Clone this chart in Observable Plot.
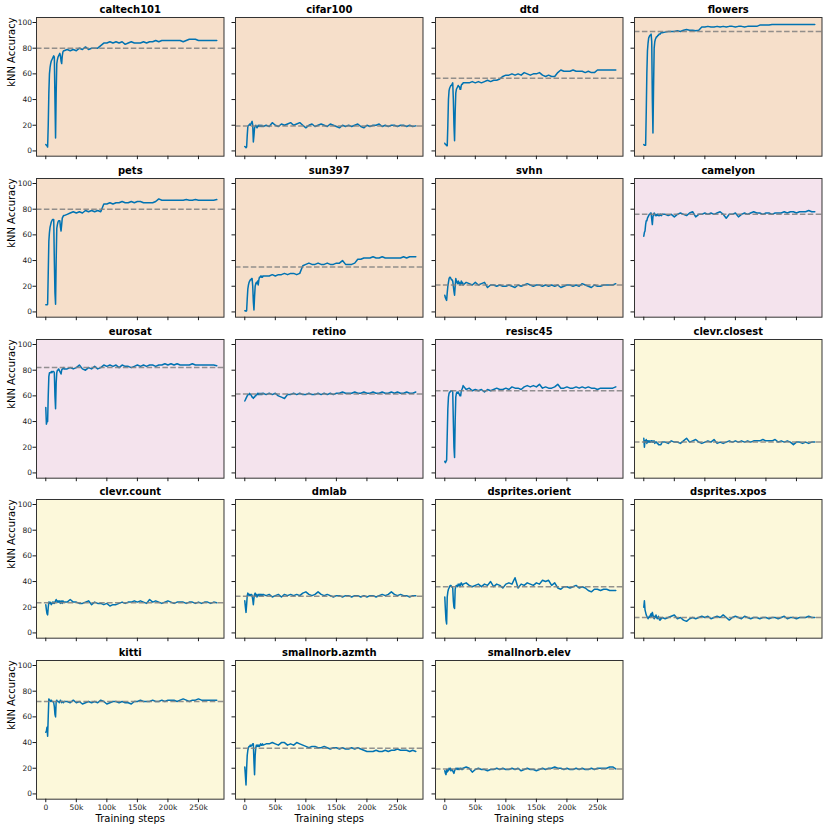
<!DOCTYPE html>
<html>
<head>
<meta charset="utf-8">
<script src="https://cdn.jsdelivr.net/npm/d3@7"></script>
<script src="https://cdn.jsdelivr.net/npm/@observablehq/plot@0.6"></script>
<style>
html, body { margin: 0; padding: 0; background: #ffffff; }
#chart { position: relative; width: 830px; height: 829px; font-family: "DejaVu Sans", sans-serif; }
#chart svg { position: absolute; }
</style>
</head>
<body>
<div id="chart"></div>
<script>
// Training steps, in thousands
const steps = [0,1,2,3,4,5,6,7,8,9,10,11,12,13,14,15,16,17,18,19,20,21,22,23,24,25,26,27,28,29,30,
  35,40,45,50,55,60,65,70,75,80,85,90,95,100,105,110,115,120,125,130,135,140,145,150,155,160,165,170,175,180,
  185,190,195,200,205,210,215,220,225,230,235,240,245,250,255,260,265,270,275,280];

const datasets = ["caltech101","cifar100","dtd","flowers","pets","sun397","svhn","camelyon",
  "eurosat","retino","resisc45","clevr.closest","clevr.count","dmlab","dsprites.orient","dsprites.xpos",
  "kitti","smallnorb.azmth","smallnorb.elev"];
const groups = ["natural","natural","natural","natural","natural","natural","natural","specialized",
  "specialized","specialized","specialized","structured","structured","structured","structured","structured",
  "structured","structured","structured"];
const baselines = [80, 19.5, 56.5, 93, 80, 35, 21, 76, 82, 61.5, 64, 24, 23.5, 28.5, 36, 12, 72, 35.5, 19.5];

const caltech101 = [5,4.5,4,3,20,45,60,65,68,70,71,72,73,74,73,40,10,45,68,71,73,74,75,76,74,70,68,74,77,78,78,
  79,78,79,78,80,79,81,79,80,80,80,82,84,84,85,84,85,84,85,83,84,85,84,84,84,85,84,85,85,86,85,86,86,86,86,86,86,86,85,86,87,87,87,86,86,86,86,86,86,86];
const cifar100 = [3.5,3,2.5,3,12,19,20,20,21,20,21,22,23,20,7,12,18,19,20,19,18,19,20,19,20,19,20,19,20,19,19,
  20,19,22,20,19,21,20,21,22,20,21,22,20,18,20,21,19,20,21,20,19,21,20,19,18,20,19,20,19,20,21,19,18,20,19,20,20,21,19,20,19,20,20,19,20,20,19,20,19,19.5];
const dtd = [6,5,5,4,4,20,40,47,49,50,51,51,52,53,40,20,8,30,45,48,49,50,51,50,50,48,48,51,52,52,53,
  53,53,54,53,54,53,54,55,54,55,55,56,58,59,59,60,59,60,59,61,60,59,60,60,61,59,58,59,58,58,61,63,62,62,62,63,62,62,62,61,62,61,61,63,63,63,63,63,63,63];
const flowers = [5,4.5,4.5,4.5,30,60,78,84,88,89,90,90,91,85,40,14,50,80,85,87,88,89,89,90,90,91,91,91,92,92,92,
  92.5,93,93,93,93.5,93,94,94.5,94,94,93.5,94,96.5,96.5,97,96.5,96.5,97,96.5,97,96.5,97,97,96.5,97,97,96.5,97,97,97,97,98,98,98,98,98.5,98.5,98.5,98.5,98.5,98.5,98.5,98.5,98.5,98.5,98.5,98.5,98.5,98.5,98.5];
const pets = [5.5,5.5,5.5,6,30,55,62,66,68,70,71,72,72,72,40,15,6,40,65,68,70,71,71,71,66,63,68,73,74,75,75,
  76,77,78,77,78,77,79,78,79,78,79,78,84,84,85,84,85,85,86,85,85,86,85,86,86,85,85,85,85,86,88,87,87,87,87,87,87,87,87,87.5,87,87,87.5,87,87,87,87,87,87,87.5];
const sun397 = [1,1,0.5,1,10,18,21,23,24,25,25,26,26,20,8,1.5,12,20,22,23,22,24,21,25,27,27,28,27,28,27,28,
  28,28,29,28,29,29,30,29,30,30,29,30,36,37,38,37,37,38,37,37,38,37,37,38,38,40,37,37,37,38,41,41,42,42,42,43,42,42,43,42,42,42,42,42,42,43,42,43,43,43];
const svhn = [13,11,10,9,15,20,23,26,27,27,26,25,25,24,20,16,13,20,26,24,23,22,24,22,23,21,22,24,22,23,21,
  23,22,21,23,21,22,23,19,21,21,20,21,20,20,21,20,19,21,20,21,22,21,20,21,21,20,21,20,21,20,21,19,20,21,21,20,21,20,22,21,20,19,21,20,20,21,21,21,21,22];
const camelyon = [59,62,63,68,71,71,73,74,75,76,76,77,77,72,68,74,76,77,76,75,76,75,76,76,75,76,75,76,76,75,76,
  76,75,76,74,76,77,76,75,77,78,74,76,76,77,76,77,76,77,78,76,73,76,76,77,74,76,77,76,77,78,77,77,76,77,77,76,77,77,77,78,77,78,78,77,78,78,78,79,78,78];
const eurosat = [51,38,40,40,60,75,78,78,78,79,78,79,79,79,78,60,50,70,78,80,80,81,80,79,78,77,80,81,81,82,81,
  81,82,81,82,84,81,80,82,81,83,81,82,84,83,84,83,84,82,84,83,83,82,83,84,83,84,83,84,84,83,84,84,85,84,85,84,85,84,84,84,84,85,84,84,84,84,84,84,84,83.5];
const retino = [56,57,58,59,60,61,61,61,62,61,61,60,59,59,58,59,59,60,60,61,61,62,61,62,61,62,61,62,61,62,62,
  61,62,61,62,60,59,58,61,61,62,61,62,61,61,62,61,61,62,61,62,61,62,61,62,62,63,62,62,62,63,62,62,63,62,62,63,62,62,63,62,62,63,62,63,62,62,63,62,62,63];
const resisc45 = [9,8,9,10,30,50,59,62,63,63,64,64,64,63,40,20,12,40,59,62,63,62,63,62,61,60,60,64,65,66,68,
  65,66,64,65,64,65,63,65,64,65,66,65,65,66,65,67,66,66,65,67,68,67,68,67,69,66,67,66,66,67,69,66,66,67,66,66,67,66,67,66,67,66,66,65,66,66,66,66,66,67];
const clevrClosest = [27,20,25,24,26,23,25,24,25,24,25,24,25,25,24,25,24,25,23,24,24,24,23,23,22,22,22,22,22,23,24,
  24,23,25,24,24,23,25,27,24,25,26,24,23,24,25,24,26,23,24,23,24,25,24,25,24,25,24,25,24,25,25,25,26,25,25,25,26,24,25,24,25,24,22,24,24,23,24,23,24,24];
const clevrCount = [22,18,15,14,20,24,23,24,23,22,23,24,23,24,23,24,25,26,25,24,25,24,25,24,23,25,24,23,25,24,24,
  24,26,24,24,23,23,24,25,22,24,23,23,22,23,21,22,22,23,24,23,24,24,25,24,25,24,23,26,24,25,24,23,24,25,24,23,24,24,24,23,24,24,23,24,23,24,24,23,24,23.5];
const dmlab = [25,20,16,22,29,31,30,29,30,29,30,30,29,26,22,27,30,31,29,30,28,29,30,29,30,29,30,29,30,29,30,
  29,30,28,29,30,28,30,29,30,29,30,29,31,32,30,29,30,32,30,29,30,29,28,29,29,28,29,29,28,29,29,28,29,28,29,29,28,29,30,29,30,32,30,29,30,29,29,28,29,29];
const dspritesOrient = [28,18,10,7,28,32,34,35,36,37,37,36,36,35,25,20,19,34,36,37,37,36,38,37,38,36,38,39,38,37,38,
  39,37,36,37,38,36,38,37,40,36,38,37,35,38,39,38,43,35,38,37,39,38,37,39,38,41,40,41,37,39,35,34,36,36,35,36,37,35,36,35,33,32,34,34,33,34,34,33,33,33];
const dspritesXpos = [20,25,18,16,14,13,12,11,12,13,12,14,15,13,16,14,12,11,13,12,14,12,11,12,13,11,10,10,12,11,12,
  11,12,13,14,11,12,10,9,11,12,11,12,13,12,13,11,12,13,12,14,12,10,12,13,12,11,13,12,11,12,12,11,12,12,11,12,12,11,12,13,11,12,12,11,12,12,12,13,12,12];
const kitti = [48,49,52,45,60,74,73,73,72,73,72,72,72,71,68,62,60,72,73,72,72,72,71,72,73,72,71,72,72,71,72,
  72,71,73,71,72,70,71,72,71,72,71,73,72,70,71,72,72,71,72,71,71,70,72,72,73,72,72,72,73,72,72,73,72,73,73,73,72,73,74,73,72,73,73,74,73,73,73,73,73,73];
const smallnorbAzmth = [21,14,7,20,30,34,36,37,37,38,37,38,38,39,39,25,15,30,36,38,37,38,37,38,37,38,39,38,38,39,38,
  39,39,40,39,38,40,40,38,39,38,40,39,38,37,36,37,37,36,36,37,36,35,36,36,35,36,35,35,36,35,36,35,34,33,33,33,34,33,33,34,33,34,34,35,34,34,34,33,34,33];
const smallnorbElev = [18,16,15,19,17,19,18,20,19,20,18,19,19,18,17,16,18,19,20,20,19,20,19,20,19,20,20,19,20,19,20,
  21,20,17,19,20,19,19,18,19,19,20,19,20,19,19,20,19,20,18,19,20,19,19,18,19,20,19,20,20,21,20,20,19,20,19,19,20,19,20,19,19,20,19,20,20,20,20,21,21,19.5];

const series = [caltech101, cifar100, dtd, flowers, pets, sun397, svhn, camelyon, eurosat, retino, resisc45,
  clevrClosest, clevrCount, dmlab, dspritesOrient, dspritesXpos, kitti, smallnorbAzmth, smallnorbElev];

const xTicks = [0, 50000, 100000, 150000, 200000, 250000];
const xTickLabels = ["0", "50k", "100k", "150k", "200k", "250k"];
const yTicks = [0, 20, 40, 60, 80, 100];

series.forEach((s, i) => { if (s.length !== steps.length) throw new Error(datasets[i] + " has " + s.length + " values, expected " + steps.length); });

// ---- styling / layout ----
const groupFill = { natural: "#f6dfca", specialized: "#f4e3ed", structured: "#fcf8da" };
const lineColor = "#0173b2";
const W = 187.5, H = 138.7;
const colLeft = c => 36 + c * 199.4;
const rowTop = r => 17.3 + r * 160.7;

const chart = document.getElementById("chart");

datasets.forEach((name, k) => {
  const r = Math.floor(k / 4), c = k % 4;
  const isLeft = c === 0;
  const isBottom = r === 4;
  const mL = isLeft ? 36 : 8, mR = 4, mT = 18, mB = isBottom ? 32 : 8;
  const rows = steps.map((s, i) => ({ step: s * 1000, acc: series[k][i] }));
  const marks = [
    Plot.frame({ fill: groupFill[groups[k]] }),
    Plot.line(rows, { x: "step", y: "acc", stroke: lineColor, strokeWidth: 1.5 }),
    Plot.ruleY([baselines[k]], { stroke: "#808080", strokeOpacity: 0.85, strokeWidth: 1.5, strokeDasharray: "5.5,2.4" }),
    Plot.frame({ stroke: "#333333", strokeWidth: 1 }),
    Plot.axisX(xTicks, { tickSize: 3.5, tickPadding: 1.5, label: null,
      tickFormat: isBottom ? (d => xTickLabels[xTicks.indexOf(d)]) : (() => "") }),
    Plot.axisY(yTicks, { tickSize: 3.5, tickPadding: 1, label: null,
      tickFormat: isLeft ? (d => String(d)) : (() => "") }),
    Plot.text([name], { text: d => d, frameAnchor: "top", dy: -8, lineAnchor: "middle",
      fontWeight: "bold", fontSize: 10, fill: "#000" })
  ];
  if (isLeft) marks.push(Plot.text(["kNN Accuracy"], { text: d => d, frameAnchor: "left", dx: -25, rotate: -90,
    lineAnchor: "middle", fontSize: 10, fill: "#000" }));
  if (isBottom) marks.push(Plot.text(["Training steps"], { text: d => d, frameAnchor: "bottom", dy: 19.5,
    lineAnchor: "middle", fontSize: 10, fill: "#000" }));

  const svg = Plot.plot({
    width: mL + W + mR,
    height: mT + H + mB,
    marginLeft: mL, marginRight: mR, marginTop: mT, marginBottom: mB,
    style: { background: "transparent", fontFamily: "DejaVu Sans, sans-serif", fontSize: "7.5px", color: "#1a1a1a", overflow: "visible" },
    x: { domain: [-15200, 291800], axis: null },
    y: { domain: [-4.1, 103.9], axis: null },
    marks
  });
  svg.style.left = (colLeft(c) - mL) + "px";
  svg.style.top = (rowTop(r) - mT) + "px";
  chart.appendChild(svg);
});
</script>
</body>
</html>
